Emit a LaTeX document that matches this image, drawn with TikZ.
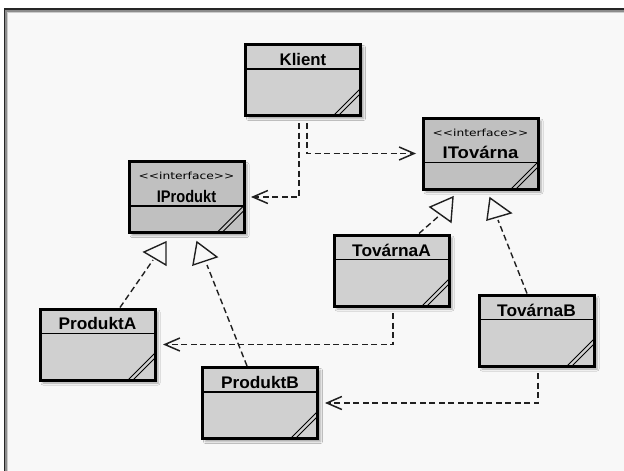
\documentclass[tikz,border=0pt]{standalone}
\usepackage{fontspec}
\usepackage{graphicx}
\setmainfont{Liberation Sans}
\newfontfamily\stfont{DejaVu Sans}
\usetikzlibrary{arrows.meta,shadows.blur}

\definecolor{bgc}{HTML}{F8F8F8}
\definecolor{boxfill}{HTML}{D0D0D0}
\definecolor{ifill}{HTML}{C0C0C0}
\definecolor{linec}{HTML}{202020}

% class name and stereotype text
\newcommand\clsname[2][1.03]{\scalebox{#1}[1]{\fontsize{16.8}{18}\selectfont\bfseries #2}}
\newcommand\stereo{\scalebox{1.25}[1]{\stfont\fontsize{9.8}{11}\selectfont <\kern0pt<interface>\kern0pt>}}

\tikzset{
  umlbox/.style 2 args={draw=black, line width=3pt, fill=#2,
    minimum width=115pt, minimum height=71pt, inner sep=0pt,
    blur shadow={shadow xshift=3pt, shadow yshift=-3pt,
                 shadow blur radius=2pt, shadow opacity=35},
    path picture={
      \draw[line width=1.5pt] ([yshift=-#1]path picture bounding box.north west)
                           -- ([yshift=-#1]path picture bounding box.north east);
      \draw[line width=1pt] ([xshift=-27pt]path picture bounding box.south east)
                         -- ([yshift=27pt]path picture bounding box.south east);
      \draw[line width=1pt] ([xshift=-22pt]path picture bounding box.south east)
                         -- ([yshift=22pt]path picture bounding box.south east);
    }},
  classbox/.style={umlbox={24.5pt}{boxfill}},
  ifacebox/.style={umlbox={44.5pt}{ifill}},
  lbl/.style={anchor=base, inner sep=0pt, text=black},
  dep/.style={draw=linec, line width=1.4pt, dash pattern=on 6pt off 3.5pt,
    -{Straight Barb[length=15pt,width=13pt,line width=1.5pt]}},
  gen/.style={draw=linec, line width=1.4pt, dash pattern=on 6pt off 3.5pt},
  tri/.style={draw=linec, line width=1.4pt, fill=bgc, line join=miter},
}

\begin{document}
\begin{tikzpicture}[x=1pt,y=-1pt]
\useasboundingbox (0,0) rectangle (624,471);

% window background with inset frame
\fill[white] (0,0) rectangle (624,471);
\fill[bgc] (4,9) rectangle (624,471);
\draw[black!85, line width=1.8pt] (4.4,471) -- (4.4,9.3) -- (624,9.3);
\draw[black!45, line width=1.2pt] (6,471) -- (6,10.9) -- (624,10.9);
\draw[black!20, line width=1pt] (7.1,471) -- (7.1,12) -- (624,12);

% classes
\node[classbox] (K)  at (303,80)      {};
\node[ifacebox] (IP) at (186.5,197)   {};
\node[ifacebox] (IT) at (480.5,153.5) {};
\node[classbox] (PA) at (97.5,344.5)  {};
\node[classbox] (PB) at (260,403)     {};
\node[classbox] (TA) at (391.5,270.5) {};
\node[classbox] (TB) at (536.5,330.5) {};

% labels
\node[lbl] (Kt)  at ([yshift=-22.5pt]K.north)  {\clsname[1.0]{Klient}};
\node[lbl] (IPs) at ([yshift=-19.5pt]IP.north) {\stereo};
\node[lbl] (IPt) at ([yshift=-42.5pt]IP.north) {\clsname[0.87]{IProdukt}};
\node[lbl] (ITs) at ([yshift=-19.5pt]IT.north) {\stereo};
\node[lbl] (ITt) at ([yshift=-42pt]IT.north)   {\clsname[1.1]{ITovárna}};
\node[lbl] (PAt) at ([yshift=-22pt]PA.north)   {\clsname{ProduktA}};
\node[lbl] (PBt) at ([yshift=-22.5pt]PB.north) {\clsname{ProduktB}};
\node[lbl] (TAt) at ([yshift=-22.5pt]TA.north) {\clsname{TovárnaA}};
\node[lbl] (TBt) at ([yshift=-22.5pt]TB.north) {\clsname{TovárnaB}};

% dependencies
\draw[dep] ([xshift=-4pt,yshift=-6pt]K.south) |- ([xshift=5.5pt]IP.east);
\draw[dep] ([xshift=4pt,yshift=-6pt]K.south) |- ([xshift=-5.5pt]IT.west);
\draw[dep] ([xshift=1.5pt,yshift=-5.5pt]TA.south) |- ([xshift=6.5pt]PA.east);
\draw[dep] ([xshift=1.5pt,yshift=-5.5pt]TB.south) |- ([xshift=6pt]PB.east);

% realizations
\coordinate (gPA) at (153,260);
\coordinate (gPB) at (207,265);
\coordinate (gTA) at (440,215);
\coordinate (gTB) at (498,220);
\draw[gen] ([xshift=22.5pt]PA.north) -- (gPA);
\draw[gen] ([xshift=-13pt]PB.north) -- (gPB);
\draw[gen] ([xshift=27.5pt]TA.north) -- (gTA);
\draw[gen] ([xshift=-9.5pt]TB.north) -- (gTB);
\draw[tri] (144,252) -- (166,242) -- (166,265) -- cycle;
\draw[tri] (193,265) -- (197,242) -- (217,257) -- cycle;
\draw[tri] (430,207) -- (453,197) -- (451,222) -- cycle;
\draw[tri] (490,198) -- (487,220) -- (511,213) -- cycle;
\end{tikzpicture}
\end{document}
